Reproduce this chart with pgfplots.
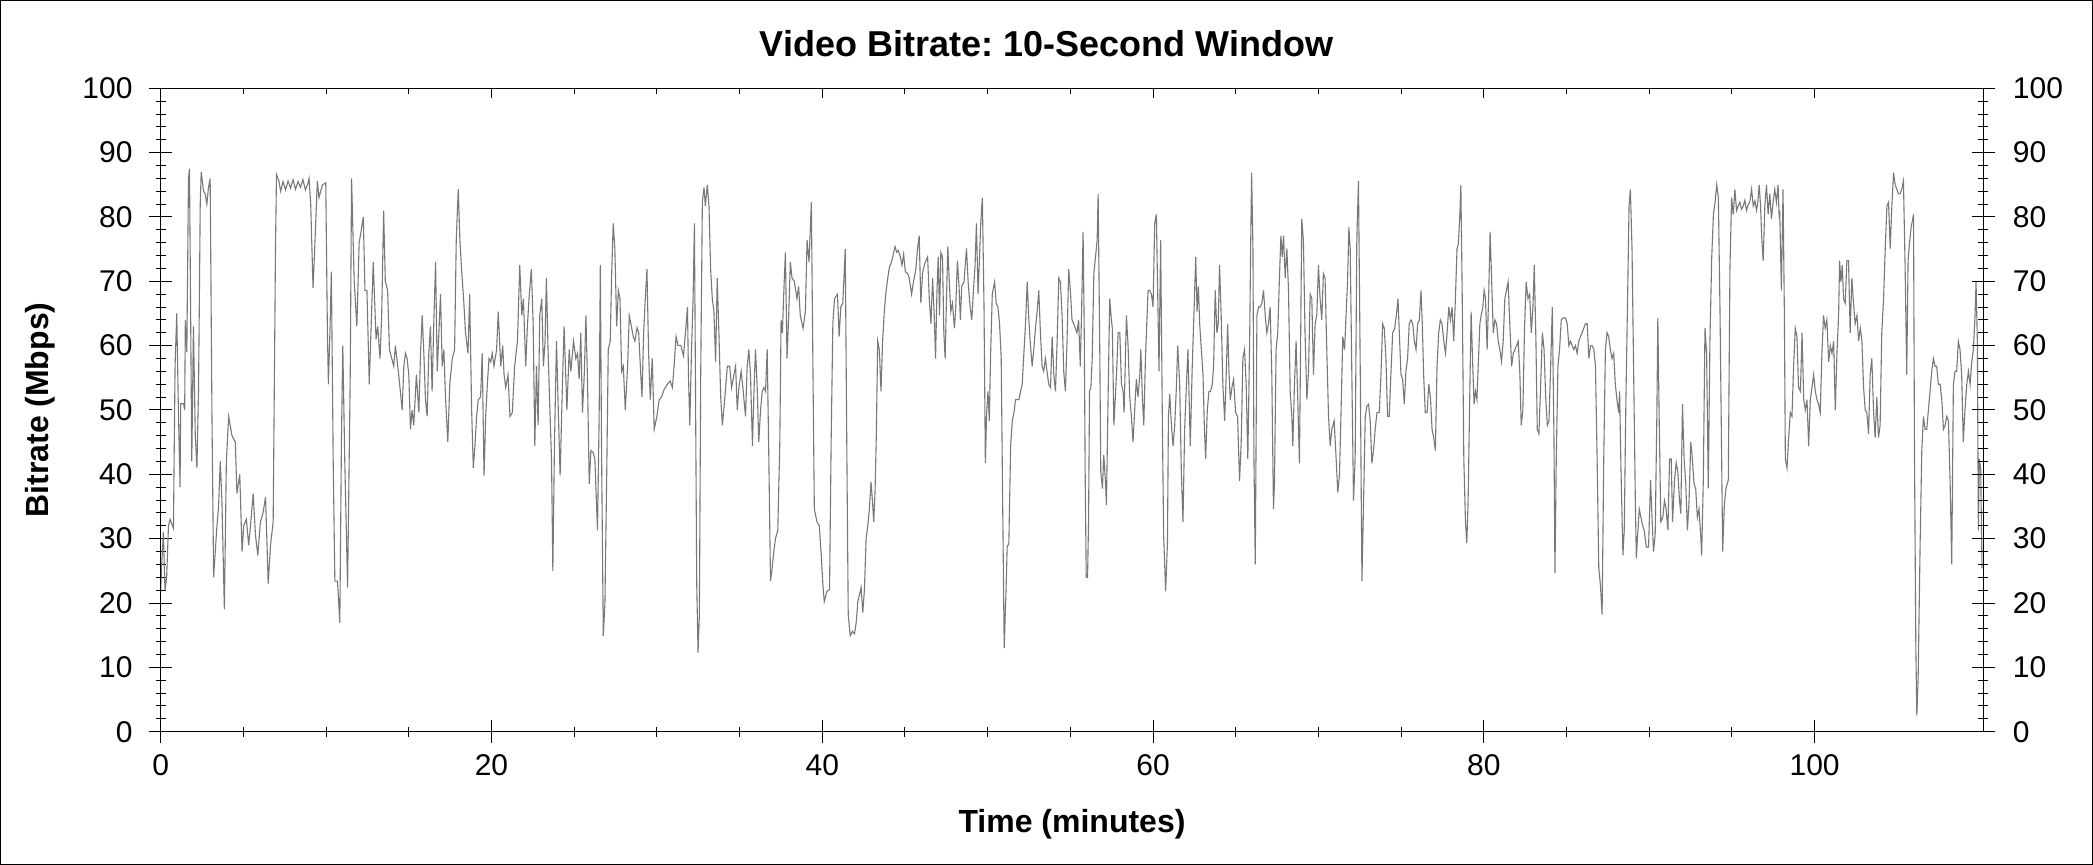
\documentclass[border=0pt]{standalone}
\usepackage{fontspec}
\setmainfont{Liberation Sans}
\usepackage{pgfplots}
\pgfplotsset{compat=1.18}
\definecolor{linegray}{RGB}{120,120,120}
\frenchspacing
\begin{document}
\begin{tikzpicture}[x=0.5pt,y=0.5pt]
\useasboundingbox (0,0) rectangle (2093,865);
\draw[line width=0.5pt] (0.5,0.5) rectangle (2092.5,864.5);
\pgfplotsset{
  common/.style={
    at={(80.35pt,66.65pt)}, anchor=south west, scale only axis,
    width=911.3pt, height=321.7pt,
    xmin=0, xmax=110.2, ymin=0, ymax=100,
    axis line style={line width=0.5pt},
    every tick/.style={black, line width=0.5pt},
    tick align=center,
    major tick length=11.5pt, minor tick length=5pt,
    /pgf/number format/assume math mode=true,
    ticklabel style={font=\fontsize{15}{18}\selectfont},
    xtick={0,20,...,100}, minor x tick num=3,
    ytick={0,10,...,100}, minor y tick num=4,
  }
}
\begin{axis}[common,
  xtick pos=bottom, ytick pos=left,
  yticklabel style={anchor=east, xshift=-4.8pt},
  xticklabel style={anchor=north, yshift=-2pt},
]
\addplot[linegray, line width=0.55pt, mark=none] table {
0.00 22
0.06 26
0.16 31
0.26 22
0.36 24
0.47 32
0.57 33
0.77 31.6
0.87 57
0.97 65
1.07 50
1.17 38
1.21 51
1.38 51
1.45 50
1.49 64
1.58 59
1.68 86
1.74 87.5
1.78 75
1.88 42
1.98 63
2.09 46
2.19 41
2.29 53.5
2.39 82
2.45 87
2.59 84
2.69 83.6
2.79 82
2.89 84.6
2.99 86
3.10 49
3.20 24
3.30 28
3.40 32
3.50 35
3.60 42
3.70 36
3.85 19
3.97 42
4.11 49
4.31 46
4.51 45
4.61 37
4.78 40
4.92 28
5.02 32
5.18 33
5.32 29
5.43 32
5.59 37
5.73 30.6
5.87 27.4
6.03 32.6
6.19 34
6.34 36.5
6.50 23
6.64 29
6.80 32.6
6.94 75
7.00 86.6
7.15 85.6
7.25 84
7.40 85.5
7.55 84.2
7.70 85.6
7.85 84.5
8.00 85.8
8.15 84.3
8.30 85.5
8.45 84.6
8.60 85.8
8.75 84.2
8.90 85.2
8.97 86
9.07 82
9.21 69
9.31 75
9.47 85.6
9.57 83
9.78 85
9.98 85.3
10.08 62
10.14 54
10.24 63
10.32 71.5
10.43 42
10.53 23.4
10.69 23.4
10.83 16.9
10.93 45.7
11.01 60
11.13 42
11.30 22.4
11.46 55.5
11.54 86
11.70 70
11.86 63
12.00 76
12.11 77.7
12.25 80
12.35 68.6
12.47 68.6
12.61 54
12.71 62
12.85 73
13.02 61
13.12 63
13.26 58
13.36 64.7
13.48 81
13.58 70
13.72 68.6
13.83 59.4
14.09 56.8
14.19 60
14.39 55.5
14.60 50
14.70 56.8
14.80 58.8
14.90 58
15.00 55.5
15.10 47
15.20 50
15.30 47.6
15.46 55.5
15.61 49.6
15.71 58.8
15.81 64.7
15.91 58.8
16.01 51.6
16.11 49
16.21 58.8
16.31 63
16.41 52.9
16.51 63.4
16.62 73
16.72 56
16.82 62
16.92 68
17.02 56.8
17.12 59.4
17.22 52
17.36 45
17.48 54
17.63 58
17.77 59.4
17.87 76.4
17.99 84.3
18.09 76.4
18.19 71.9
18.33 66.6
18.43 62
18.58 58.8
18.68 68
18.80 50
18.90 41
19.00 44.4
19.10 49
19.20 51.6
19.34 52
19.44 58.8
19.55 39.8
19.65 49
19.75 54
19.85 58
19.95 57.5
20.05 58.8
20.15 56.8
20.31 59.4
20.41 65.3
20.56 56.8
20.68 60
20.76 55.5
20.86 53.5
21.00 55.5
21.12 49
21.26 49.6
21.40 56.8
21.57 60.7
21.71 72.5
21.83 64.7
21.93 67.3
22.07 56.8
22.17 63
22.27 67.3
22.41 71.9
22.52 63.4
22.62 44.4
22.72 56.8
22.82 47.6
22.92 64.7
23.04 67.3
23.14 56.8
23.24 60.7
23.32 70.5
23.42 59.4
23.52 50.9
23.63 42.4
23.71 25
23.81 45
23.93 60.7
24.05 49
24.15 39.8
24.29 54
24.39 63
24.56 50
24.70 59.4
24.80 56
24.96 60.7
25.10 58
25.20 58.8
25.30 54.8
25.40 62
25.50 49.6
25.61 55.5
25.71 64.7
25.81 54
25.91 38.5
26.01 43.7
26.15 43.4
26.25 42.4
26.41 31.3
26.51 49
26.58 72.5
26.66 42.4
26.76 14.9
26.86 20
26.98 42.4
27.06 59.4
27.18 60.7
27.26 70.5
27.36 79
27.46 75
27.57 63
27.67 68.6
27.77 67.3
27.87 56
27.97 56.8
28.09 50
28.23 56.8
28.33 64.7
28.43 63.4
28.57 61.4
28.67 60.7
28.80 62.8
28.90 62
29.00 56.8
29.10 52
29.20 62
29.30 67.3
29.40 71.9
29.50 58.8
29.60 51.6
29.72 58
29.84 47
30.00 49
30.14 51.6
30.28 52
30.44 53.2
30.64 54
30.80 54.5
30.94 53.5
31.04 56.8
31.16 61.4
31.28 60
31.45 60
31.61 58.4
31.75 62.7
31.85 66
31.91 55.5
31.99 47.6
32.09 58.8
32.19 67.3
32.27 79
32.33 55.5
32.41 22.8
32.49 12.3
32.57 18.2
32.65 55.5
32.75 82.3
32.85 84.6
32.93 81.7
33.05 85
33.15 81.7
33.25 71.9
33.35 67.3
33.45 65.3
33.55 57.5
33.65 70.5
33.75 62
33.86 52
33.96 47.6
34.10 51.6
34.26 56.8
34.40 56.8
34.52 53.5
34.66 55.5
34.76 56.8
34.86 50
34.96 53.5
35.10 56
35.22 52.9
35.36 49
35.46 56.8
35.56 59.4
35.66 55.5
35.78 44.4
35.86 52
35.96 59.4
36.06 54
36.16 45
36.27 50
36.37 52.9
36.47 53.5
36.57 52.9
36.67 59.4
36.77 42.4
36.87 23.4
36.97 25.4
37.07 28
37.17 30
37.31 31.3
37.43 44.4
37.51 64
37.59 62
37.67 68
37.77 74.5
37.87 58
37.97 64.7
38.07 73
38.17 70.5
38.31 70
38.47 67.3
38.57 69.2
38.67 64.7
38.84 62.7
38.98 65.3
39.08 76.4
39.20 73
39.34 82.3
39.44 55.5
39.52 34.6
39.68 32.6
39.82 32
39.94 27.4
40.04 22.8
40.12 20.2
40.28 21.8
40.44 22.1
40.54 45.7
40.64 63.4
40.74 67.3
40.92 68
41.02 61.4
41.12 66
41.24 66.6
41.39 75
41.49 42.4
41.57 18.2
41.69 14.9
41.83 15.6
41.95 15.2
42.05 16.9
42.15 20.2
42.35 22.4
42.45 18.5
42.55 22.1
42.65 30
42.75 32
42.85 34.6
42.95 38.8
43.05 35.2
43.11 32.6
43.19 37.2
43.27 46.3
43.35 60.7
43.45 59.4
43.55 52.9
43.65 60.7
43.75 65.3
43.86 68.6
43.96 70.5
44.06 72.2
44.16 72.8
44.26 73.8
44.40 75.4
44.50 74.5
44.60 74.8
44.72 73.8
44.82 72.5
44.92 74.2
45.02 71.5
45.16 71.2
45.26 70.5
45.40 68
45.52 70
45.66 71.9
45.76 75.1
45.86 77.1
45.96 66.6
46.06 71.2
46.17 72.5
46.27 73.2
46.37 73.8
46.47 67.3
46.57 63.4
46.67 70.5
46.77 64.7
46.85 58
46.93 68
47.01 73.8
47.09 64.7
47.17 74.5
47.27 73.8
47.35 62
47.43 58
47.51 67.3
47.59 75.4
47.67 70.5
47.77 65.3
47.87 66.6
47.99 62.7
48.07 66
48.17 73.2
48.27 69.2
48.35 64
48.43 69.2
48.57 69.9
48.72 75.1
48.82 69.9
48.94 66
49.04 64
49.14 68.6
49.24 72.5
49.32 79
49.42 68
49.50 73.2
49.58 79
49.68 83
49.78 66
49.86 41.8
49.94 49.6
50.02 52.9
50.10 48.3
50.18 58.8
50.28 68
50.42 69.9
50.52 66.6
50.62 66
50.72 63.4
50.82 58
50.90 37.2
51.00 13
51.12 22.8
51.18 28.7
51.28 29.3
51.39 44.4
51.49 48.3
51.59 49.6
51.69 51.6
51.89 51.6
51.99 52.9
52.09 54
52.19 58.8
52.29 63.4
52.39 69.9
52.49 64
52.59 60
52.69 56.8
52.79 59.4
52.89 62.7
52.99 65.3
53.09 68.6
53.19 62
53.29 56.8
53.39 56
53.49 58
53.59 56
53.69 54
53.80 53.5
53.90 61.4
54.00 55.5
54.10 52.9
54.20 60.7
54.30 70.5
54.40 69.9
54.50 64.7
54.60 56
54.70 52.9
54.80 60.7
54.90 71.9
55.00 68.6
55.10 64
55.20 63.4
55.30 62.7
55.40 62
55.50 64
55.60 56.8
55.68 65.3
55.77 77.7
55.84 62
55.90 39
55.96 24
56.04 24
56.10 32.6
56.16 52.9
56.24 53.5
56.32 58
56.42 71.2
56.52 73.8
56.62 76.4
56.68 83.6
56.78 58.8
56.84 40.4
56.94 37.8
57.02 43
57.12 39
57.18 35.2
57.28 51.6
57.38 67.3
57.48 64
57.54 62.7
57.63 47.6
57.71 51.6
57.79 55.5
57.89 62
57.99 62
58.09 54
58.19 52.9
58.25 49.6
58.39 64.7
58.49 60
58.59 52
58.69 49
58.79 45
58.89 50
58.99 54.8
59.09 52
59.20 55.5
59.26 59.4
59.36 51.6
59.44 47.6
59.54 58
59.64 64.7
59.70 68.6
59.80 68.6
59.90 68
60.00 66
60.10 79
60.20 80.4
60.30 65.3
60.36 56
60.46 76.4
60.56 49
60.64 30.6
60.76 21.8
60.87 29.3
60.93 49
61.01 52.5
61.11 47.6
61.21 44.4
61.31 47.6
61.41 53.5
61.49 60
61.61 54
61.71 40.4
61.81 32.6
61.91 47
62.01 53.5
62.11 59.4
62.25 44.4
62.37 56.8
62.47 64.7
62.58 73.8
62.66 65.3
62.74 69.2
62.82 63.4
62.92 59.4
63.02 55.5
63.10 47.6
63.18 42.4
63.28 50
63.38 52.9
63.48 52.9
63.58 54
63.66 56.8
63.76 68.6
63.86 62
63.94 63.4
64.02 72.5
64.12 64.7
64.22 54
64.33 48.3
64.43 56
64.51 63.4
64.59 56
64.67 51.6
64.77 53.5
64.87 54.8
64.99 49.6
65.11 49
65.23 39
65.33 45
65.43 58
65.53 59.4
65.63 54
65.73 42.4
65.84 60.7
65.90 75.1
65.96 86.9
66.04 75.1
66.10 42.4
66.18 26
66.28 64.7
66.38 66
66.48 66
66.58 66.6
66.68 68.6
66.78 64.7
66.88 62
66.98 63.4
67.08 66
67.18 55.5
67.28 34.6
67.34 38.5
67.44 59.4
67.54 62
67.65 71.2
67.73 77.1
67.81 73.8
67.89 77.1
67.99 70.5
68.09 75.1
68.19 68.6
68.29 52.9
68.39 49
68.45 44.4
68.55 54
68.65 60.7
68.75 51.6
68.85 41.7
68.91 56.8
68.99 79.7
69.09 76.4
69.19 62
69.30 51.6
69.40 56
69.50 68
69.60 67.3
69.70 55.5
69.80 63.4
69.90 64.7
70.00 72.5
70.10 67.3
70.20 64
70.30 71.2
70.40 70.5
70.51 58.8
70.61 49
70.71 44.4
70.81 47
70.95 48.3
71.07 42.4
71.17 37.2
71.27 39.8
71.37 50
71.47 61.4
71.58 59.4
71.68 65.3
71.76 69.9
71.84 78.4
71.92 75.1
72.02 55.5
72.12 35.9
72.22 42.4
72.32 76.4
72.42 85.6
72.53 55.5
72.63 23.4
72.73 35.9
72.83 49
72.93 50.6
73.03 50.9
73.13 48.3
73.23 41.7
73.33 43.7
73.43 47
73.54 49.6
73.68 49.6
73.78 55.5
73.88 63.4
73.98 62.7
74.08 58
74.18 49
74.28 49
74.38 55.5
74.49 62
74.61 62.7
74.71 64.7
74.81 67.3
74.89 62
74.99 55.5
75.09 54.8
75.19 50.9
75.29 56
75.39 58
75.49 63.4
75.60 64
75.70 63.4
75.80 60.7
75.90 59.4
76.00 63.4
76.10 64
76.20 68.6
76.28 63.4
76.36 55.5
76.46 49.6
76.57 49.6
76.67 54
76.77 52
76.87 47
76.97 45.7
77.07 43.7
77.17 56.8
77.27 62
77.37 64
77.47 63.4
77.58 60.7
77.68 58.8
77.78 62
77.88 66
77.98 64
78.08 66
78.18 60.7
78.28 67.3
78.38 75.1
78.46 75.8
78.55 80.4
78.61 85
78.69 68.6
78.79 42.4
78.89 32.6
78.97 29.3
79.05 35.9
79.13 49
79.23 65.3
79.33 56.8
79.41 50.9
79.49 52.9
79.58 51.6
79.66 56.8
79.76 63.4
79.84 64.7
79.94 66
80.02 68.6
80.10 67.3
80.20 59.4
80.30 68.6
80.38 77.7
80.46 71.2
80.57 62
80.67 64
80.77 63.4
80.87 60.7
80.97 59.4
81.07 57.5
81.17 60.7
81.27 67.3
81.37 68.6
81.47 69.9
81.58 62.7
81.68 56.8
81.78 58.8
81.88 59.4
81.98 60
82.08 60.7
82.18 55.5
82.26 47.6
82.36 50
82.46 62.7
82.56 69.9
82.67 67.3
82.77 68
82.87 62
82.97 66
83.05 72.5
83.15 60.7
83.23 47
83.33 46.3
83.43 53.5
83.54 62
83.64 59.4
83.74 52
83.84 47.6
83.94 48.3
84.04 56.8
84.14 66
84.24 45.7
84.30 24.7
84.38 42.4
84.48 56.8
84.58 59.4
84.68 64
84.78 64.3
84.94 64.3
85.04 63.4
85.14 60
85.24 60.7
85.34 60
85.44 59.4
85.54 60
85.64 58.8
85.74 60.7
85.84 61.4
85.94 62
86.04 62.7
86.14 63.4
86.25 63.4
86.35 58
86.45 60
86.55 60
86.65 59.4
86.75 56.8
86.85 42.4
86.95 25.4
87.05 22.8
87.15 18.2
87.25 42.4
87.35 59.4
87.45 62
87.55 61.4
87.65 59.4
87.75 58
87.85 58.8
87.95 54
88.05 51.6
88.15 49.6
88.21 52.9
88.29 41
88.41 27.4
88.49 31.3
88.59 51.6
88.70 68.6
88.78 81.7
88.86 84.3
88.96 75.1
89.06 55.5
89.16 35.9
89.22 27
89.30 30.6
89.40 34.6
89.50 33.3
89.60 32
89.70 31.3
89.82 28.7
89.96 28.7
90.08 39.1
90.18 32.6
90.26 28
90.36 30.6
90.46 49
90.52 64.3
90.60 49
90.70 32.6
90.82 33.3
90.92 35.9
91.02 34.6
91.13 31.3
91.23 42.4
91.33 42.4
91.41 32.6
91.53 39.1
91.63 41.8
91.73 40.4
91.83 35.9
91.91 33.9
92.01 50.9
92.11 42.4
92.21 38.5
92.31 31.3
92.41 35.9
92.51 45
92.59 43
92.71 38.5
92.81 37.8
92.91 33.3
93.01 34.6
93.11 30.6
93.17 27.4
93.27 39.1
93.37 62.7
93.47 58.8
93.57 37.8
93.67 60.7
93.78 73.8
93.88 80.4
93.98 82.3
94.08 85
94.18 83
94.28 65.3
94.38 42.4
94.44 28
94.54 35.2
94.64 37.8
94.78 39.1
94.88 71.9
94.98 83
95.08 80.4
95.18 84.3
95.28 81
95.38 81.7
95.48 82.3
95.58 81.2
95.68 81.7
95.78 82.6
95.88 81
95.98 81.9
96.08 82.3
96.19 84.3
96.29 81.7
96.39 82.5
96.49 81
96.57 82.4
96.65 85
96.73 81.7
96.81 76.4
96.89 73.2
96.99 81.7
97.09 85
97.19 80.4
97.29 83.6
97.39 79.7
97.49 82.3
97.59 84.3
97.69 82.3
97.79 85
97.85 80.4
97.89 81
97.99 68.6
98.09 84.3
98.17 65.3
98.23 42.4
98.33 41
98.43 45.7
98.53 49.6
98.63 49
98.73 56.8
98.83 62.7
98.93 61.4
99.03 53.5
99.14 52.9
99.24 62
99.34 51.6
99.44 50
99.54 51.6
99.64 44.4
99.74 51.6
99.84 53.5
99.94 55.5
100.04 52.9
100.14 51.6
100.24 50.9
100.34 49.6
100.44 58.8
100.54 64.7
100.64 62.7
100.74 64
100.85 57.5
100.95 60
101.05 58.8
101.15 60.7
101.25 50
101.35 58.8
101.45 64.7
101.51 73.2
101.59 69.9
101.67 72.5
101.75 67.3
101.85 66.6
101.95 73.2
102.05 73.2
102.15 62
102.25 70.5
102.35 66.6
102.45 63.4
102.56 64.7
102.66 60.7
102.76 62.7
102.86 60.7
102.96 53.5
103.06 50
103.16 49.6
103.26 46.3
103.36 55.5
103.46 58
103.56 50
103.66 45.7
103.76 52
103.86 45.7
103.96 47.6
104.06 62
104.17 67.3
104.27 75.1
104.37 81.7
104.47 82.3
104.57 75.1
104.67 81.7
104.77 86.9
104.87 85
104.97 84.3
105.07 83.6
105.17 83.6
105.27 84.3
105.37 85.6
105.47 72.5
105.57 55.5
105.65 73.2
105.73 75.8
105.84 78.4
105.98 80.4
106.04 42.4
106.12 13
106.18 2.5
106.26 8.4
106.38 29.3
106.48 43.7
106.58 49
106.68 47
106.78 47
106.88 50
106.98 52.9
107.08 56
107.18 58
107.28 56.8
107.38 56.8
107.48 54
107.59 54
107.69 51.6
107.79 47
107.89 47.6
107.99 49
108.09 48.3
108.19 39.1
108.29 26
108.39 54
108.49 56
108.59 56
108.69 60.7
108.79 59.4
108.89 55.5
108.99 45
109.09 50
109.20 54
109.30 56
109.40 54
109.50 57.5
109.60 59.4
109.70 64.7
109.76 69.9
109.84 60.7
109.90 31.3
109.96 42.4
110.04 41
110.12 25.4
};
\end{axis}
\begin{axis}[common,
  xtick=\empty, ytick pos=right, yticklabel pos=right,
  yticklabel style={anchor=west, xshift=5.5pt},
]
\end{axis}
\begin{axis}[common,
  ytick=\empty, xtick pos=top, xticklabels={}, tick align=inside,
  major tick length=5pt, minor tick length=3pt,
]
\end{axis}
\node[font=\fontsize{18}{22}\selectfont\bfseries] at (1046.5,821) {Video Bitrate: 10-Second Window};
\node[font=\fontsize{16}{19}\selectfont\bfseries] at (1072,41) {Time (minutes)};
\node[font=\fontsize{16}{19}\selectfont\bfseries, rotate=90] at (40,455) {Bitrate (Mbps)};
\end{tikzpicture}
\end{document}
